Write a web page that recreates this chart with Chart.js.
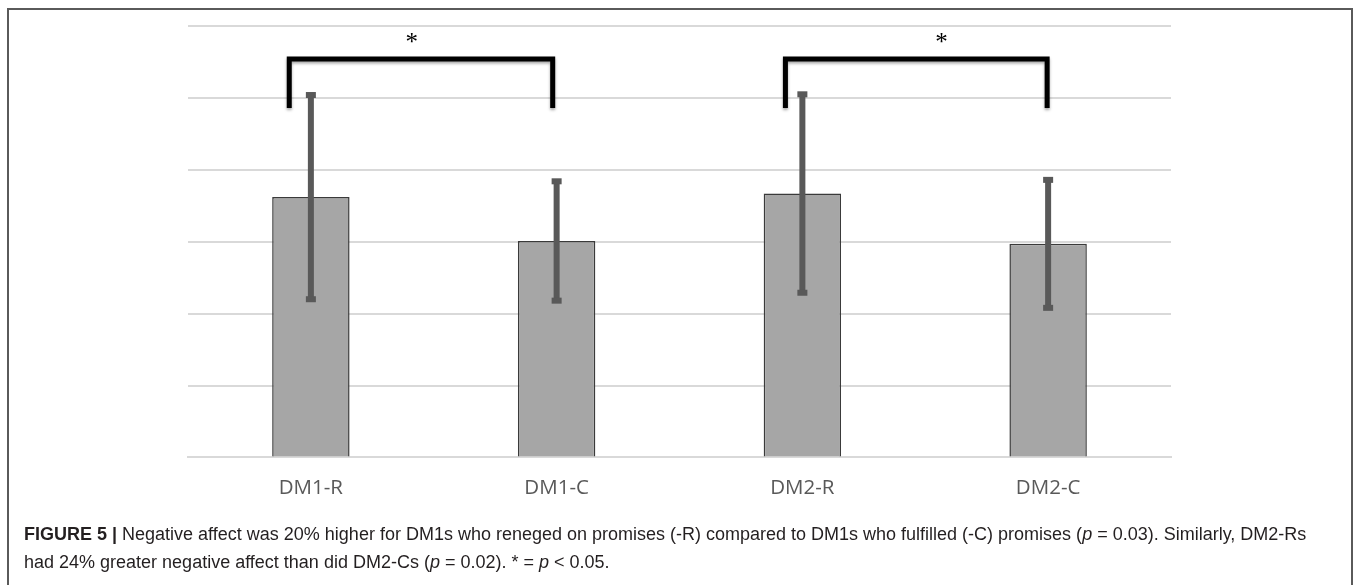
<!DOCTYPE html>
<html>
<head>
<meta charset="utf-8">
<script src="https://cdn.jsdelivr.net/npm/chart.js@4.4.1/dist/chart.umd.min.js"></script>
<style>
  html, body { margin: 0; padding: 0; background: #fff; }
  body { width: 1358px; height: 585px; position: relative; overflow: hidden; }
  #frame {
    position: absolute; left: 7px; top: 8px; width: 1346px; height: 620px;
    border: 2px solid #5a5a5a; box-sizing: border-box;
  }
  #chartBox { position: absolute; left: 0; top: 0; width: 1358px; height: 534px; }
  #caption {
    position: absolute; left: 24px; top: 520px; width: 1325px;
    font-family: "Liberation Sans", Arial, sans-serif; font-size: 18px;
    line-height: 28px; color: #231f20; white-space: nowrap;
  }
  #caption b { font-weight: bold; }
</style>
</head>
<body>
<div id="frame"></div>
<div id="chartBox"><canvas id="barChart"></canvas></div>
<div id="caption"><b>FIGURE 5 |</b> Negative affect was 20% higher for DM1s who reneged on promises (-R) compared to DM1s who fulfilled (-C) promises (<i>p</i> = 0.03). Similarly, DM2-Rs<br>had 24% greater negative affect than did DM2-Cs (<i>p</i> = 0.02). * = <i>p</i> &lt; 0.05.</div>
<script>
// Данные
const groups = ['DM1-R', 'DM1-C', 'DM2-R', 'DM2-C'];
const meanAffect = [3.62, 3.01, 3.67, 2.97];
const errAffect = [1.42, 0.83, 1.38, 0.89];

// Скобки значимости (в единицах категорий и оси Y)
const bracketLeft = [-0.088, 1.931];
const bracketRight = [0.984, 2.996];
const bracketTop = 5.54;
const bracketLegEnd = 4.86;
const starX = [0.41, 2.566];
const starY = 5.83;
const starText = ['*', '*'];

function xAt(scale, v) {
    const p0 = scale.getPixelForValue(0);
    const p1 = scale.getPixelForValue(1);
    return p0 + v * (p1 - p0);
}

// Плагин: планки погрешностей
const errorBars = {
    id: 'errorBars',
    afterDatasetsDraw(chart) {
        const ctx = chart.ctx;
        const x = chart.scales.x;
        const y = chart.scales.y;
        ctx.save();
        ctx.fillStyle = '#595959';
        meanAffect.forEach((m, i) => {
            const cx = x.getPixelForValue(i);
            const yTop = y.getPixelForValue(m + errAffect[i]);
            const yBot = y.getPixelForValue(m - errAffect[i]);
            ctx.fillRect(cx - 3, yTop, 6, yBot - yTop);
            ctx.fillRect(cx - 5, yTop - 3, 10, 6);
            ctx.fillRect(cx - 5, yBot - 3, 10, 6);
        });
        ctx.restore();
    }
};

// Плагин: скобки и звёздочки
const brackets = {
    id: 'brackets',
    afterDraw(chart) {
        const ctx = chart.ctx;
        const x = chart.scales.x;
        const y = chart.scales.y;
        ctx.save();
        ctx.strokeStyle = '#000';
        ctx.lineWidth = 5;
        ctx.lineJoin = 'miter';
        ctx.shadowColor = 'rgba(0,0,0,0.35)';
        ctx.shadowBlur = 3;
        ctx.shadowOffsetY = 2;
        bracketLeft.forEach((l, i) => {
            const xl = xAt(x, l);
            const xr = xAt(x, bracketRight[i]);
            const yt = y.getPixelForValue(bracketTop);
            const yb = y.getPixelForValue(bracketLegEnd);
            ctx.beginPath();
            ctx.moveTo(xl, yb);
            ctx.lineTo(xl, yt);
            ctx.lineTo(xr, yt);
            ctx.lineTo(xr, yb);
            ctx.stroke();
        });
        ctx.shadowColor = 'transparent';
        ctx.fillStyle = '#000';
        ctx.font = '25px "Liberation Serif", serif';
        ctx.textAlign = 'center';
        ctx.textBaseline = 'alphabetic';
        starX.forEach((sx, i) => {
            const m = ctx.measureText(starText[i]);
            const cy = y.getPixelForValue(starY);
            const by = cy + (m.actualBoundingBoxAscent - m.actualBoundingBoxDescent) / 2;
            ctx.fillText(starText[i], xAt(x, sx), by);
        });
        ctx.restore();
    }
};

const ctxBar = document.getElementById('barChart').getContext('2d');
const barChart = new Chart(ctxBar, {
    type: 'bar',
    data: {
        labels: groups,
        datasets: [{
            data: meanAffect,
            backgroundColor: '#a6a6a6',
            borderColor: '#3a3a3a',
            borderWidth: 1.5,
            barPercentage: 0.315,
            categoryPercentage: 1
        }]
    },
    options: {
        responsive: true,
        maintainAspectRatio: false,
        animation: false,
        layout: {
            padding: { left: 188, right: 187, top: 26, bottom: 16 }
        },
        plugins: {
            legend: { display: false },
            tooltip: { enabled: false }
        },
        scales: {
            x: {
                grid: { display: false, drawTicks: false },
                border: { display: true, color: '#d9d9d9', width: 2 },
                ticks: {
                    padding: 18,
                    color: '#595959',
                    font: { family: '"Open Sans", sans-serif', size: 20.5 }
                }
            },
            y: {
                min: 0,
                max: 6,
                ticks: { display: false, stepSize: 1 },
                grid: { color: '#d9d9d9', lineWidth: 2, drawTicks: false },
                border: { display: false }
            }
        }
    },
    plugins: [errorBars, brackets]
});
</script>
</body>
</html>
